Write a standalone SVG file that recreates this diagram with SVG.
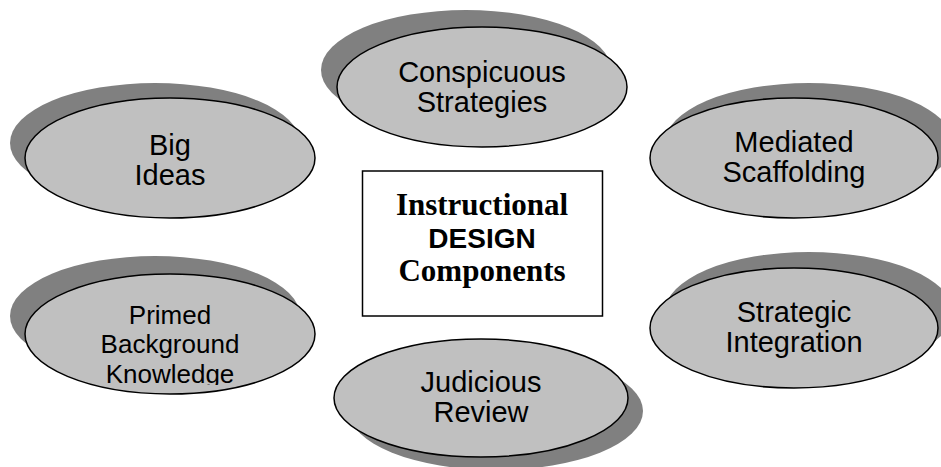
<svg xmlns="http://www.w3.org/2000/svg" width="941" height="467" viewBox="0 0 941 467">
<style>
.sh{fill:#808080;stroke:none}
.fr{fill:#c0c0c0;stroke:#000;stroke-width:1.5}
.lb{font-family:"Liberation Sans",Arial,sans-serif;font-size:29px;fill:#000;text-anchor:middle}
.lb2{font-family:"Liberation Sans",Arial,sans-serif;font-size:26px;fill:#000;text-anchor:middle}
.tt{font-family:"Liberation Serif","Times New Roman",serif;font-weight:bold;font-size:31px;fill:#000;text-anchor:middle}
.ts{font-family:"Liberation Sans",Arial,sans-serif;font-weight:bold;font-size:28px;fill:#000;text-anchor:middle}
</style>
<defs>
<clipPath id="clipK"><rect x="0" y="0" width="330" height="385"/></clipPath>
</defs>
<rect width="941" height="467" fill="#fff"/>
<g id="conspicuous">
<ellipse class="sh" cx="466" cy="70" rx="145" ry="60"/>
<ellipse class="fr" cx="482" cy="87" rx="145" ry="60"/>
<text class="lb" x="482" y="82">Conspicuous</text>
<text class="lb" x="482" y="112">Strategies</text>
</g>
<g id="bigideas">
<ellipse class="sh" cx="155" cy="143" rx="145" ry="60"/>
<ellipse class="fr" cx="170" cy="158" rx="145" ry="60"/>
<text class="lb" x="170" y="155">Big</text>
<text class="lb" x="170" y="185">Ideas</text>
</g>
<g id="mediated">
<ellipse class="sh" cx="809" cy="143" rx="144" ry="60"/>
<ellipse class="fr" cx="794" cy="158" rx="144" ry="60"/>
<text class="lb" x="794" y="152">Mediated</text>
<text class="lb" x="794" y="182">Scaffolding</text>
</g>
<g id="primed">
<ellipse class="sh" cx="155" cy="316" rx="145" ry="60"/>
<ellipse class="fr" cx="170" cy="334" rx="145" ry="60"/>
<g clip-path="url(#clipK)">
<text class="lb2" x="170" y="324">Primed</text>
<text class="lb2" x="170" y="353">Background</text>
<text class="lb2" x="170" y="383">Knowledge</text>
</g>
</g>
<g id="judicious">
<ellipse class="sh" cx="496" cy="411" rx="147" ry="59"/>
<ellipse class="fr" cx="481" cy="398" rx="147" ry="59"/>
<text class="lb" x="481" y="392">Judicious</text>
<text class="lb" x="481" y="422">Review</text>
</g>
<g id="strategic">
<ellipse class="sh" cx="809" cy="312" rx="144" ry="60"/>
<ellipse class="fr" cx="794" cy="328" rx="144" ry="60"/>
<text class="lb" x="794" y="322">Strategic</text>
<text class="lb" x="794" y="352">Integration</text>
</g>
<g id="center">
<rect x="362.5" y="171" width="240" height="145" fill="#fff" stroke="#000" stroke-width="1.5"/>
<text class="tt" x="482" y="215">Instructional</text>
<text class="ts" x="482" y="248">DESIGN</text>
<text class="tt" x="482" y="281">Components</text>
</g>
<g id="connectors"></g>
</svg>
